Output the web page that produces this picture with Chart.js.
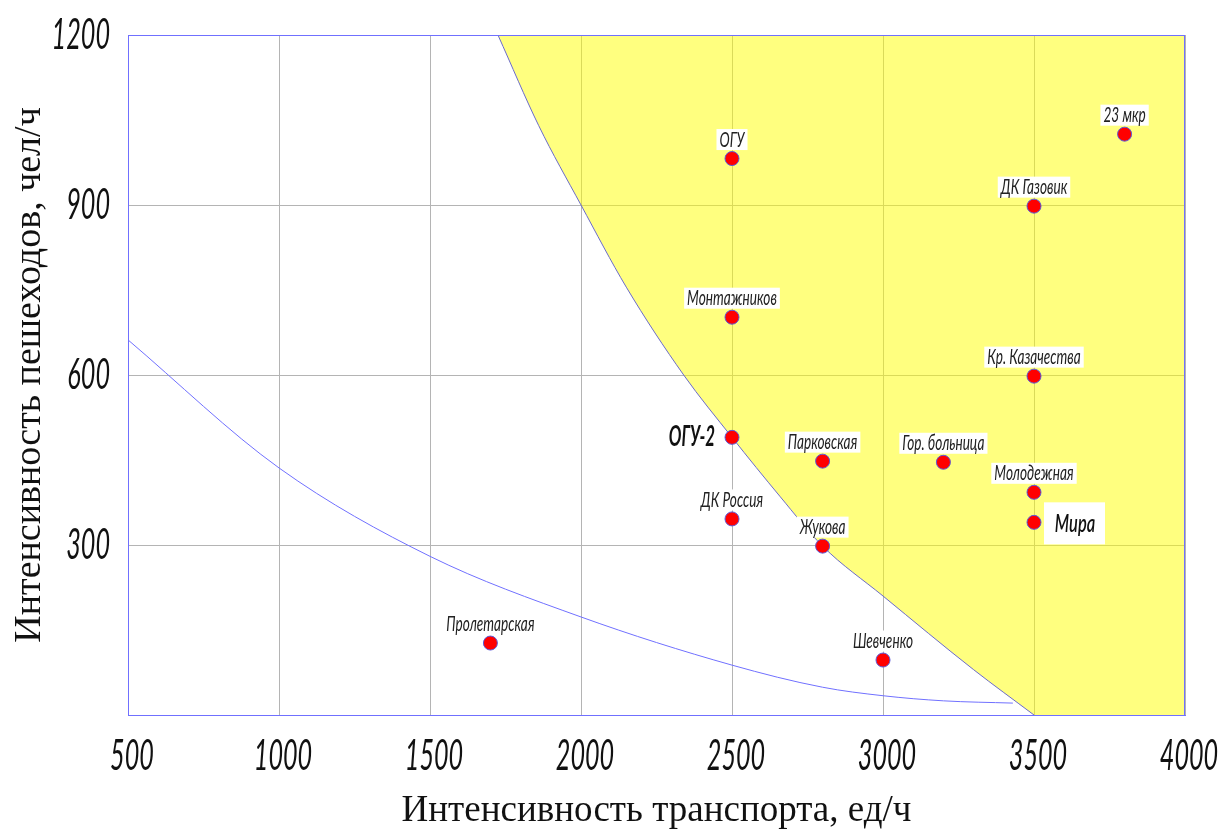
<!DOCTYPE html>
<html lang="ru">
<head>
  <meta charset="UTF-8" />
  <title>Интенсивность пешеходов и транспорта</title>
  <script src="https://cdn.jsdelivr.net/npm/chart.js"></script>
  <style>
    body {
      margin: 0;
      background: #fff;
      overflow: hidden;
    }
    #chart {
      display: block;
    }
  </style>
</head>
<body>

<canvas id="chart" width="1225" height="836"></canvas>

<script>
// точки (перекрёстки)
const stationNames = ['Пролетарская', 'ОГУ', 'Монтажников', 'ОГУ-2', 'ДК Россия', 'Парковская', 'Жукова',
  'Шевченко', 'Гор. больница', 'ДК Газовик', 'Кр. Казачества', 'Молодежная', 'Мира', '23 мкр'];
const stationX = [1700, 2500, 2500, 2500, 2500, 2800, 2800, 3000, 3200, 3500, 3500, 3500, 3500, 3800];
const stationY = [127, 982, 702, 490, 346, 448, 298, 97, 446, 898, 598, 393, 340, 1025];

// граница жёлтой зоны
const zoneX = [1725, 1860, 2000, 2150, 2340, 2500, 2660, 2800, 3000, 3300, 3500];
const zoneY = [1200, 1040, 900, 755, 600, 490, 385, 298, 210, 80, 0];
const zoneTailX = [3500, 4000];
const zoneTailY = [0, 0];

// нижняя синяя кривая
const lowX = [500, 1000, 1500, 2000, 2500, 2800, 3000, 3200, 3430];
const lowY = [662, 436, 280, 173, 88, 49, 34, 25, 21];

const xTicks = [500, 1000, 1500, 2000, 2500, 3000, 3500, 4000];
const yTicks = [300, 600, 900, 1200];

const xTitle = 'Интенсивность транспорта, ед/ч';
const yTitle = 'Интенсивность пешеходов, чел/ч';

// особые подписи
const specialLabels = { 'ОГУ-2': 'left', 'Мира': 'right' };

const thin = "Lato, 'DejaVu Sans', sans-serif";
const serif = "'Liberation Serif', 'DejaVu Serif', serif";
const yellow = 'rgba(255,255,0,0.5)';
const blue = '#7070ff';

function toPoints(xs, ys) {
  return xs.map((x, i) => ({ x: x, y: ys[i] }));
}

// узкий наклонный текст (как шрифт чертежа)
function narrowText(ctx, text, x, y, align, sx) {
  ctx.save();
  ctx.translate(x, y);
  ctx.scale(sx, 1);
  ctx.textAlign = align;
  ctx.textBaseline = 'middle';
  ctx.fillText(text, 0, 0);
  ctx.restore();
}

const drawingText = {
  id: 'drawingText',
  afterDatasetsDraw(chart) {
    const ctx = chart.ctx;
    const area = chart.chartArea;
    ctx.save();
    ctx.strokeStyle = blue;
    ctx.lineWidth = 1;
    ctx.strokeRect(area.left + 0.5, area.top + 0.5, area.right - area.left - 1, area.bottom - area.top);

    // подписи делений
    ctx.fillStyle = '#111';
    ctx.font = 'italic 42px ' + thin;
    const xs = chart.scales.x, ys = chart.scales.y;
    xTicks.forEach(v => narrowText(ctx, String(v), xs.getPixelForValue(v) + 4, area.bottom + 41, 'center', 0.6));
    yTicks.forEach(v => narrowText(ctx, String(v), area.left - 18, ys.getPixelForValue(v), 'right', 0.6));

    // подписи точек
    const meta = chart.getDatasetMeta(0);
    meta.data.forEach((el, i) => {
      const name = stationNames[i];
      const side = specialLabels[name];
      if (side === 'left') {
        ctx.font = 'italic bold 28px ' + thin;
        ctx.fillStyle = '#111';
        narrowText(ctx, name, el.x - 17, el.y, 'right', 0.6);
        return;
      }
      if (side === 'right') {
        ctx.fillStyle = '#fff';
        ctx.fillRect(el.x + 10, el.y - 20, 61, 42);
        ctx.font = 'italic 600 25px ' + thin;
        ctx.fillStyle = '#111';
        narrowText(ctx, name, el.x + 41, el.y + 2, 'center', 0.66);
        return;
      }
      ctx.font = 'italic 22px ' + thin;
      const w = ctx.measureText(name).width * 0.62;
      const cy = el.y - 19;
      ctx.fillStyle = '#fff';
      ctx.fillRect(el.x - w / 2 - 3, cy - 10.5, w + 6, 21);
      ctx.fillStyle = '#222';
      narrowText(ctx, name, el.x, cy, 'center', 0.62);
    });
    ctx.restore();
  }
};

new Chart(document.getElementById('chart'), {
  type: 'scatter',
  data: {
    datasets: [
      {
        data: toPoints(stationX, stationY),
        pointRadius: 7,
        pointHoverRadius: 7,
        backgroundColor: '#ff0000',
        borderColor: '#5a5ad8',
        borderWidth: 1
      },
      {
        data: toPoints(zoneX, zoneY),
        showLine: true,
        pointRadius: 0,
        borderColor: '#6a6acc',
        borderWidth: 1,
        backgroundColor: yellow,
        fill: 'end',
        cubicInterpolationMode: 'monotone'
      },
      {
        data: toPoints(zoneTailX, zoneTailY),
        showLine: true,
        pointRadius: 0,
        borderWidth: 0,
        borderColor: 'rgba(0,0,0,0)',
        backgroundColor: yellow,
        fill: 'end'
      },
      {
        data: toPoints(lowX, lowY),
        showLine: true,
        pointRadius: 0,
        borderColor: blue,
        borderWidth: 1,
        fill: false,
        cubicInterpolationMode: 'monotone'
      }
    ]
  },
  options: {
    responsive: false,
    animation: false,
    events: [],
    layout: { padding: { left: 0, right: 40, top: 35, bottom: 0 } },
    plugins: {
      legend: { display: false },
      tooltip: { enabled: false }
    },
    scales: {
      x: {
        type: 'linear',
        min: 500,
        max: 4000,
        afterBuildTicks: scale => { scale.ticks = xTicks.map(v => ({ value: v })); },
        afterFit: scale => { scale.height = 121; scale.paddingLeft = 0; scale.paddingRight = 0; },
        grid: { color: '#b4b4b4', drawTicks: false, lineWidth: 1 },
        border: { color: blue },
        ticks: { display: false },
        title: {
          display: true,
          text: xTitle,
          color: '#111',
          font: { family: serif, size: 37 },
          padding: { top: 0, bottom: 3 }
        }
      },
      y: {
        min: 0,
        max: 1200,
        afterBuildTicks: scale => { scale.ticks = yTicks.map(v => ({ value: v })); },
        afterFit: scale => { scale.width = 128; scale.paddingTop = 0; scale.paddingBottom = 0; },
        grid: { color: '#b4b4b4', drawTicks: false, lineWidth: 1 },
        border: { color: blue },
        ticks: { display: false },
        title: {
          display: true,
          text: yTitle,
          color: '#111',
          font: { family: serif, size: 38 },
          padding: { top: 7, bottom: 0 }
        }
      }
    }
  },
  plugins: [drawingText]
});
</script>

</body>
</html>
